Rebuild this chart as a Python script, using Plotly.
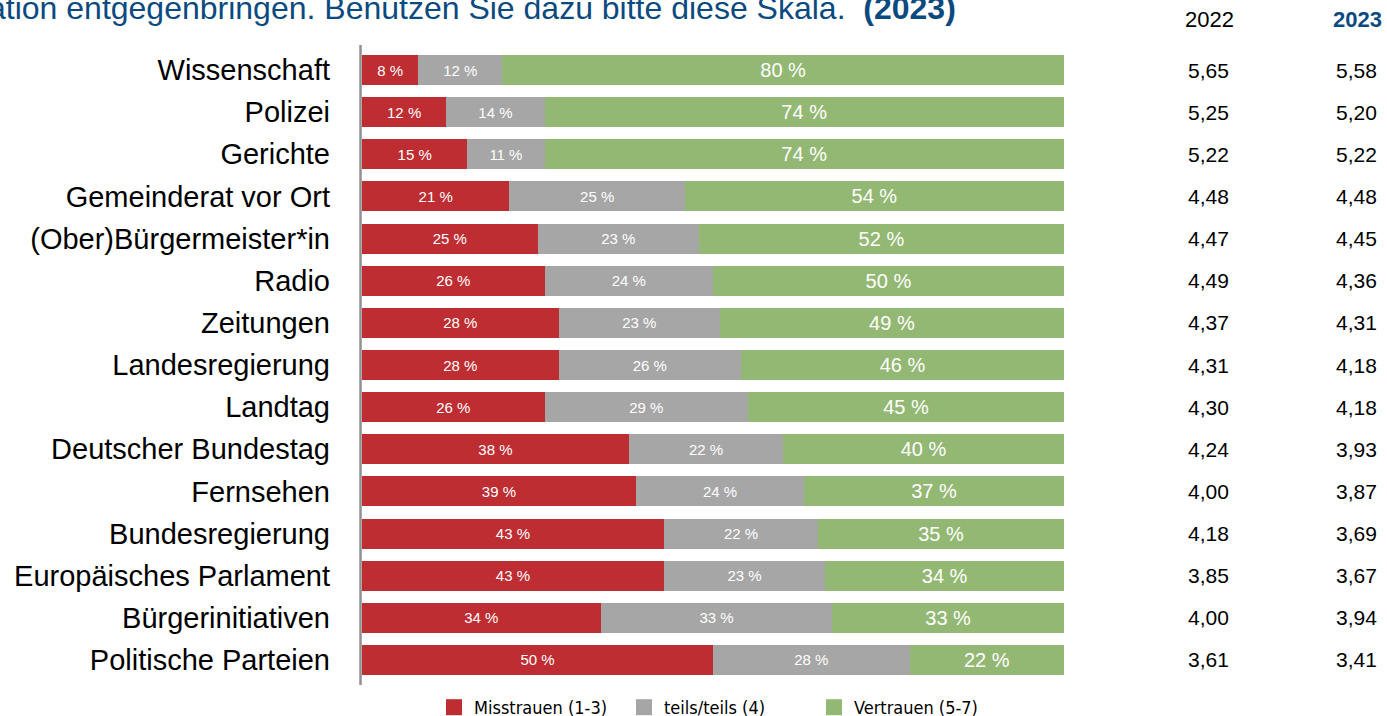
import plotly.graph_objects as go

categories = ["Wissenschaft", "Polizei", "Gerichte", "Gemeinderat vor Ort",
              "(Ober)Bürgermeister*in", "Radio", "Zeitungen", "Landesregierung",
              "Landtag", "Deutscher Bundestag", "Fernsehen", "Bundesregierung",
              "Europäisches Parlament", "Bürgerinitiativen", "Politische Parteien"]
misstrauen = [8, 12, 15, 21, 25, 26, 28, 28, 26, 38, 39, 43, 43, 34, 50]
teils = [12, 14, 11, 25, 23, 24, 23, 26, 29, 22, 24, 22, 23, 33, 28]
vertrauen = [80, 74, 74, 54, 52, 50, 49, 46, 45, 40, 37, 35, 34, 33, 22]
mean_2022 = ["5,65", "5,25", "5,22", "4,48", "4,47", "4,49", "4,37", "4,31",
             "4,30", "4,24", "4,00", "4,18", "3,85", "4,00", "3,61"]
mean_2023 = ["5,58", "5,20", "5,22", "4,48", "4,45", "4,36", "4,31", "4,18",
             "4,18", "3,93", "3,87", "3,69", "3,67", "3,94", "3,41"]
series_names = ["Misstrauen (1-3)", "teils/teils (4)", "Vertrauen (5-7)"]
year_labels = ["2022", "2023"]
title_text = "ation entgegenbringen. Benutzen Sie dazu bitte diese Skala.\u00a0 <b>(2023)</b>"

RED = "#BE2D32"
GRAY = "#A6A6A6"
GREEN = "#93B874"
BLUE = "#0B4A7F"
FONT = "Arial, Liberation Sans, sans-serif"
LEGEND_FONT = "Tahoma, DejaVu Sans Condensed, DejaVu Sans, sans-serif"

W, H = 1387, 716
L, R, T, B = 362, 323, 49, 35
PW, PH = W - L - R, H - T - B

def px_x(x):
    return (x - L) / PW

def px_y(y):
    return (H - B - y) / PH

fig = go.Figure()
series = [(series_names[0], misstrauen, RED, 15),
          (series_names[1], teils, GRAY, 15),
          (series_names[2], vertrauen, GREEN, 20)]
for name, vals, color, fs in series:
    fig.add_trace(go.Bar(
        y=categories, x=vals, name=name, orientation="h",
        marker=dict(color=color, line=dict(width=0)),
        text=[f"{v} %" for v in vals], textposition="inside",
        insidetextanchor="middle", textangle=0,
        textfont=dict(color="white", size=fs, family=FONT),
        constraintext="none", hoverinfo="skip", showlegend=False,
        legendgroup=name,
    ))
# legend entries with larger square symbols
for name, vals, color, fs in series:
    fig.add_trace(go.Scatter(
        x=[None], y=[None], mode="markers", name=name, legendgroup=name,
        marker=dict(symbol="square", size=18, color=color, line=dict(width=0)),
        showlegend=True, hoverinfo="skip",
    ))

annotations = []
for cat, a, b in zip(categories, mean_2022, mean_2023):
    annotations.append(dict(x=px_x(1208), y=cat, xref="paper", yref="y", text=a,
                            showarrow=False, xanchor="center", yanchor="middle",
                            font=dict(size=21, color="#000000", family=FONT)))
    annotations.append(dict(x=px_x(1356), y=cat, xref="paper", yref="y", text=b,
                            showarrow=False, xanchor="center", yanchor="middle",
                            font=dict(size=21, color="#000000", family=FONT)))
annotations.append(dict(x=px_x(1209), y=px_y(20), xref="paper", yref="paper",
                        text=year_labels[0], showarrow=False, xanchor="center",
                        yanchor="middle", font=dict(size=22, color="#000000", family=FONT)))
annotations.append(dict(x=px_x(1357), y=px_y(20), xref="paper", yref="paper",
                        text=f"<b>{year_labels[1]}</b>", showarrow=False, xanchor="center",
                        yanchor="middle", font=dict(size=22, color=BLUE, family=FONT)))
annotations.append(dict(x=px_x(958), y=px_y(8), xref="paper", yref="paper",
                        text=title_text, showarrow=False, xanchor="right",
                        yanchor="middle", font=dict(size=32, color=BLUE, family=FONT)))

fig.update_layout(
    width=W, height=H,
    margin=dict(l=L, r=R, t=T, b=B, pad=0, autoexpand=False),
    barmode="stack", bargap=0.288,
    plot_bgcolor="white", paper_bgcolor="white",
    font=dict(family=FONT, color="#000000"),
    xaxis=dict(range=[0, 100], visible=False, fixedrange=True),
    yaxis=dict(categoryorder="array", categoryarray=categories,
               range=[len(categories) - 0.5, -0.5], showgrid=False,
               zeroline=False, showline=False, ticks="",
               ticklabelstandoff=31, fixedrange=True,
               tickfont=dict(size=29, color="#000000", family=FONT)),
    showlegend=True,
    legend=dict(orientation="h", x=px_x(434), xanchor="left",
                y=px_y(726), yanchor="bottom", traceorder="normal",
                font=dict(size=18, color="#000000", family=LEGEND_FONT),
                entrywidth=145, itemclick=False, itemdoubleclick=False,
                bgcolor="rgba(0,0,0,0)"),
    annotations=annotations,
    shapes=[dict(type="line", xref="paper", yref="paper",
                 x0=px_x(360.5), x1=px_x(360.5), y0=px_y(685), y1=px_y(45),
                 line=dict(color="#909090", width=2.5))],
)

fig.write_html("out.html", config={"displayModeBar": False},
               post_script="document.body.style.margin='0';document.body.style.overflow='hidden';")
